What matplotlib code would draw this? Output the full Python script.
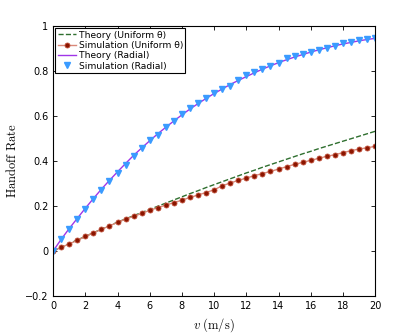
import numpy as np
import matplotlib
matplotlib.use("Agg")
import matplotlib.pyplot as plt

plt.rcParams['mathtext.fontset'] = 'cm'
plt.rcParams['font.family'] = 'DejaVu Sans'

# speed grid (m/s)
v = np.arange(0, 20.5, 0.5)

# handoff rate, theory, uniform theta
theory_uniform = [0.000, 0.016, 0.033, 0.049, 0.065, 0.081, 0.097, 0.113, 0.128, 0.143,
                  0.157, 0.171, 0.185, 0.199, 0.213, 0.227, 0.241, 0.255, 0.268, 0.282,
                  0.295, 0.308, 0.321, 0.334, 0.347, 0.359, 0.372, 0.384, 0.396, 0.408,
                  0.420, 0.432, 0.443, 0.455, 0.466, 0.477, 0.488, 0.499, 0.510, 0.521, 0.532]

# handoff rate, simulation, uniform theta
sim_uniform = [0.000, 0.016, 0.032, 0.047, 0.065, 0.081, 0.096, 0.112, 0.127, 0.142,
               0.154, 0.167, 0.181, 0.193, 0.204, 0.215, 0.226, 0.238, 0.249, 0.260,
               0.272, 0.290, 0.302, 0.314, 0.324, 0.335, 0.344, 0.354, 0.364, 0.375,
               0.385, 0.394, 0.403, 0.412, 0.421, 0.428, 0.437, 0.446, 0.453, 0.459, 0.465]

# handoff rate, theory, radial
theory_radial = [0.000, 0.052, 0.100, 0.145, 0.190, 0.233, 0.275, 0.314, 0.352, 0.389,
                 0.425, 0.458, 0.490, 0.521, 0.550, 0.578, 0.605, 0.631, 0.655, 0.678,
                 0.700, 0.720, 0.740, 0.758, 0.775, 0.792, 0.808, 0.823, 0.837, 0.850,
                 0.862, 0.873, 0.884, 0.894, 0.903, 0.912, 0.920, 0.927, 0.934, 0.940, 0.945]

# handoff rate, simulation, radial
sim_radial = [0.000, 0.053, 0.100, 0.142, 0.185, 0.231, 0.272, 0.313, 0.348, 0.384,
              0.422, 0.459, 0.495, 0.516, 0.550, 0.578, 0.608, 0.634, 0.659, 0.680,
              0.704, 0.718, 0.735, 0.760, 0.780, 0.794, 0.810, 0.824, 0.834, 0.859,
              0.867, 0.876, 0.886, 0.895, 0.904, 0.912, 0.923, 0.930, 0.938, 0.944, 0.948]

fig = plt.figure(figsize=(4.15, 3.33), dpi=100)
ax = fig.add_axes([0.128, 0.111, 0.776, 0.811])

ax.plot(v, theory_uniform, '--', color='#2f6f2f', lw=1.0, label='Theory (Uniform \u03b8)')
ax.plot(v, sim_uniform, '-', color='#d9897a', lw=1.0, marker='o', ms=3.6,
        mfc='#8b1500', mec='#c0503a', mew=0.6, label='Simulation (Uniform \u03b8)')
ax.plot(v, theory_radial, '-', color='#a035e8', lw=1.0, label='Theory (Radial)')
ax.plot(v, sim_radial, 'v', color='#3a9bff', ms=4.2, ls='none', label='Simulation (Radial)')

ax.set_xlim(0, 20)
ax.set_ylim(-0.2, 1)
ax.set_xticks(np.arange(0, 21, 2))
ax.set_yticks([-0.2, 0, 0.2, 0.4, 0.6, 0.8, 1])
ax.set_yticklabels(['\u22120.2', '0', '0.2', '0.4', '0.6', '0.8', '1'])
ax.tick_params(direction='in', labelsize=7, length=3, top=True, right=True, width=0.6)
for s in ax.spines.values():
    s.set_linewidth(0.8)

ax.set_xlabel(r'$v\ \mathrm{(m/s)}$', fontsize=9)
ax.set_ylabel(r'$\mathrm{Handoff\ Rate}$', fontsize=9)

leg = ax.legend(loc='upper left', fontsize=6.6, fancybox=False, framealpha=1,
                edgecolor='black', borderaxespad=0.25, handlelength=2.0,
                borderpad=0.25, labelspacing=0.15, handletextpad=0.3)
leg.get_frame().set_linewidth(0.8)

fig.savefig('out.png', dpi=100)
